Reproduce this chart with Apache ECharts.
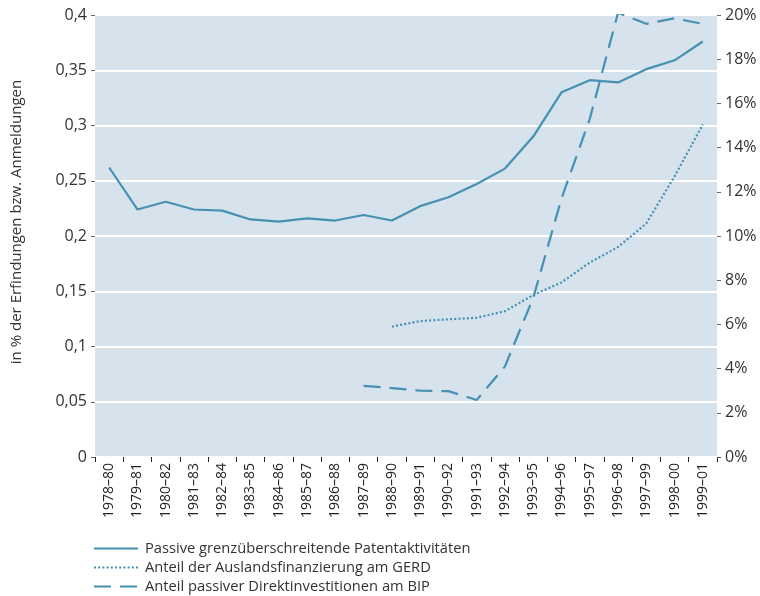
<!DOCTYPE html>
<html>
<head>
<meta charset="utf-8">
<script src="https://cdn.jsdelivr.net/npm/echarts@6/dist/echarts.min.js"></script>
<style>html,body{margin:0;padding:0;background:#fff}#c{width:760px;height:596px}</style>
</head>
<body>
<div id="c"></div>
<script>
const categories = ['1978–80','1979–81','1980–82','1981–83','1982–84','1983–85','1984–86','1985–87','1986–88','1987–89','1988–90','1989–91','1990–92','1991–93','1992–94','1993–95','1994–96','1995–97','1996–98','1997–99','1998–00','1999–01'];
const patentValues = [0.262,0.224,0.231,0.224,0.223,0.215,0.213,0.216,0.214,0.219,0.214,0.227,0.235,0.247,0.261,0.290,0.330,0.341,0.339,0.351,0.359,0.376];
const gerdValues = [null,null,null,null,null,null,null,null,null,null,5.9,6.15,6.23,6.3,6.6,7.33,7.9,8.8,9.5,10.57,12.7,15.05];
const fdiValues = [null,null,null,null,null,null,null,null,null,3.22,3.12,3.0,2.98,2.58,4.1,7.2,11.7,15.3,20.1,19.6,19.85,19.6];
const seriesNames = ['Passive grenzüberschreitende Patentaktivitäten','Anteil der Auslandsfinanzierung am GERD','Anteil passiver Direktinvestitionen am BIP'];
const leftAxisName = 'in % der Erfindungen bzw. Anmeldungen';

const color = '#4690b2';
const font = 'Open Sans';
const legendTops = [541, 560, 579];
const chart = echarts.init(document.getElementById('c'));
chart.setOption({
  animation: false,
  textStyle: {fontFamily: font},
  grid: {left: 95, right: 43, top: 15, bottom: 139, show: true, backgroundColor: '#d7e3ec', borderWidth: 0, containLabel: false, outerBoundsMode: 'none'},
  legend: seriesNames.map((n, i) => ({
    orient: 'vertical', left: 93, top: legendTops[i], itemWidth: 44, itemHeight: 14, padding: 0,
    itemStyle: {opacity: 0},
    textStyle: {fontFamily: font, fontSize: 14.7, color: '#333', padding: [0, 0, 0, 2]},
    data: [n]
  })),
  xAxis: {
    type: 'category', data: categories, boundaryGap: true,
    axisLine: {show: false},
    axisTick: {show: true, interval: 0, length: 5, lineStyle: {color: '#222'}},
    axisLabel: {interval: 0, rotate: 90, fontSize: 14, color: '#222', margin: 6, fontFamily: font}
  },
  yAxis: [
    {
      type: 'value', min: 0, max: 0.4, interval: 0.05,
      name: leftAxisName, nameLocation: 'middle', nameGap: 71, nameRotate: 90,
      nameTextStyle: {fontSize: 15, color: '#333', fontFamily: font, padding: [0, 0, 0, 28]},
      axisLine: {show: false},
      axisTick: {show: true, length: 4, lineStyle: {color: '#666'}},
      axisLabel: {fontSize: 16, color: '#333', margin: 8, formatter: v => String(+v.toFixed(2)).replace('.', ',')},
      splitLine: {show: true, lineStyle: {color: '#ffffff', width: 2}}
    },
    {
      type: 'value', min: 0, max: 20, interval: 2, position: 'right',
      axisLine: {show: false},
      axisTick: {show: true, length: 4, lineStyle: {color: '#666'}},
      axisLabel: {fontSize: 16, color: '#333', margin: 8, formatter: '{value}%'},
      splitLine: {show: false}
    }
  ],
  series: [
    {name: seriesNames[0], type: 'line', yAxisIndex: 0, data: patentValues, symbol: 'none', lineStyle: {color: color, width: 2.2}, itemStyle: {color: color}},
    {name: seriesNames[1], type: 'line', yAxisIndex: 1, data: gerdValues, symbol: 'none', lineStyle: {color: color, width: 2.2, type: [2, 2.2]}, itemStyle: {color: color}},
    {name: seriesNames[2], type: 'line', yAxisIndex: 1, data: fdiValues, symbol: 'none', lineStyle: {color: color, width: 2.2, type: [17, 9]}, itemStyle: {color: color}}
  ]
});
</script>
</body>
</html>
